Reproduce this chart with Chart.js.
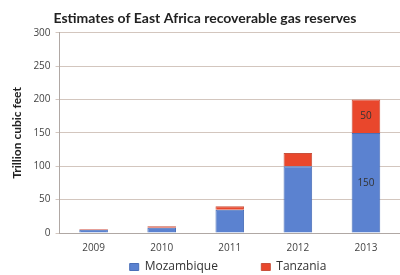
<!DOCTYPE html>
<html lang="en">
<head>
    <meta charset="UTF-8">
    <title>East Africa recoverable gas reserves</title>
    <script src="https://cdn.jsdelivr.net/npm/chart.js"></script>
    <style>
        body {
            margin: 0;
            background: #fff;
        }
        #wrap {
            width: 400px;
            height: 275px;
        }
    </style>
</head>
<body>
    <div id="wrap"><canvas id="gasChart"></canvas></div>

    <script>
        const years = ['2009', '2010', '2011', '2012', '2013'];
        const mozambique = [5, 8, 35, 100, 150];
        const tanzania = [1, 2, 5, 20, 50];
        // only the last column carries value labels in the original
        const labelledYears = ['2013'];

        const valueLabels = {
            id: 'valueLabels',
            afterDatasetsDraw(chart) {
                const ctx = chart.ctx;
                ctx.save();
                ctx.font = '10px "Open Sans"';
                ctx.fillStyle = '#333';
                ctx.textAlign = 'center';
                ctx.textBaseline = 'middle';
                chart.data.datasets.forEach((ds, i) => {
                    chart.getDatasetMeta(i).data.forEach((bar, j) => {
                        if (!labelledYears.includes(years[j])) return;
                        ctx.fillText(ds.data[j], bar.x, (bar.y + bar.base) / 2);
                    });
                });
                ctx.restore();
            }
        };

        new Chart(document.getElementById('gasChart'), {
            type: 'bar',
            data: {
                labels: years,
                datasets: [{
                    label: 'Mozambique',
                    data: mozambique,
                    backgroundColor: '#5b82d0',
                    borderColor: '#4a6fb8',
                    borderWidth: 1
                }, {
                    label: 'Tanzania',
                    data: tanzania,
                    backgroundColor: '#e9472c',
                    borderColor: '#c8503c',
                    borderWidth: 1
                }]
            },
            options: {
                responsive: true,
                maintainAspectRatio: false,
                animation: false,
                layout: {
                    padding: { top: 6, right: -4, left: 6, bottom: -8 }
                },
                datasets: {
                    bar: { barPercentage: 0.42, categoryPercentage: 1 }
                },
                plugins: {
                    title: {
                        display: true,
                        text: 'Estimates of East Africa recoverable gas reserves',
                        color: '#222',
                        font: { family: 'Lato', size: 14, weight: 'bold' },
                        padding: { top: 4, bottom: 6 }
                    },
                    legend: {
                        position: 'bottom',
                        align: 'end',
                        labels: {
                            color: '#333',
                            boxWidth: 9,
                            boxHeight: 7,
                            padding: 6,
                            font: { family: 'Open Sans', size: 12 },
                            // the legend sits right of centre with a wide gap, so pad the texts
                            generateLabels(chart) {
                                const items = Chart.defaults.plugins.legend.labels.generateLabels(chart);
                                items[0].text += ' '.repeat(12);
                                items[1].text += ' '.repeat(23);
                                return items;
                            }
                        }
                    },
                    tooltip: { enabled: false }
                },
                scales: {
                    x: {
                        stacked: true,
                        grid: { display: false },
                        border: { color: '#b0a8a4' },
                        ticks: { color: '#444', padding: 1, font: { family: 'Open Sans', size: 10 } }
                    },
                    y: {
                        stacked: true,
                        min: 0,
                        max: 300,
                        ticks: {
                            stepSize: 50,
                            color: '#444',
                            padding: 5,
                            font: { family: 'Open Sans', size: 10 }
                        },
                        grid: { color: '#d3c6be', tickLength: 4 },
                        border: { color: '#b0a8a4' },
                        title: {
                            display: true,
                            text: 'Trillion cubic feet',
                            color: '#222',
                            font: { family: 'Lato', size: 12, weight: 'bold' },
                            padding: { bottom: 4 }
                        }
                    }
                }
            },
            plugins: [valueLabels]
        });
    </script>
</body>
</html>
